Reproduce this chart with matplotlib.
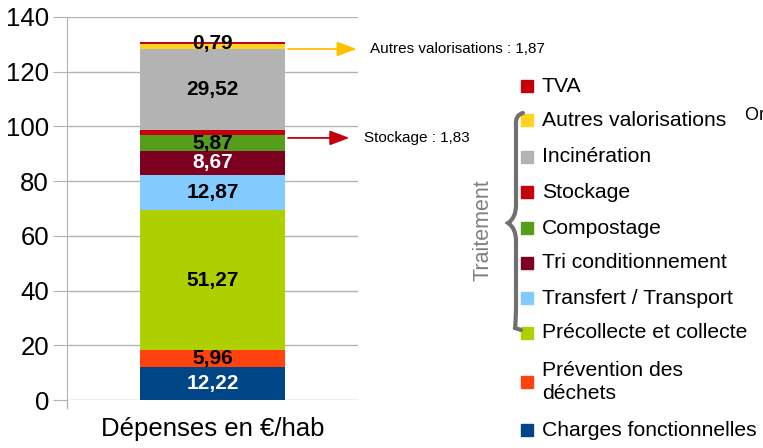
import numpy as np
import matplotlib.pyplot as plt
from matplotlib.path import Path
from matplotlib.patches import PathPatch, Rectangle

plt.rcParams['font.family'] = ['Liberation Sans', 'DejaVu Sans']

# stacked segments, bottom to top
segments = ['Charges fonctionnelles', 'Prévention des\ndéchets', 'Précollecte et collecte',
            'Transfert / Transport', 'Tri conditionnement', 'Compostage', 'Stockage',
            'Incinération', 'Autres valorisations', 'TVA']
values = [12.22, 5.96, 51.27, 12.87, 8.67, 5.87, 1.83, 29.52, 1.87, 0.79]
colors = ['#004586', '#ff420e', '#aecf00', '#83caff', '#7e0021', '#579d1c',
          '#c5000b', '#b3b3b3', '#ffd320', '#c5000b']
label_colors = ['white', 'black', 'black', 'black', 'white', 'black', None, 'black', None, 'black']
category = 'Dépenses en €/hab'

fig = plt.figure(figsize=(7.63, 4.48), dpi=100)
ax = fig.add_axes([67/763, 1-400/448, (358-67)/763, (400-17)/448])

bottom = 0
for v, c, lc in zip(values, colors, label_colors):
    ax.bar(0, v, width=0.5, bottom=bottom, color=c, zorder=3)
    if lc is not None:
        ax.text(0, bottom + v/2, f'{v:.2f}'.replace('.', ','), ha='center', va='center',
                color=lc, fontsize=15, fontweight='bold', zorder=4)
    bottom += v

ax.set_xlim(-0.5, 0.5)
ax.set_ylim(0, 140)
ax.set_yticks(np.arange(0, 141, 20))
ax.set_xticks([0])
ax.set_xticklabels([category], fontsize=18.5)
ax.tick_params(axis='y', labelsize=18.5, length=10, color='#b3b3b3', pad=3)
ax.tick_params(axis='x', length=0, pad=12)
ax.yaxis.grid(True, color='#b3b3b3', lw=1, zorder=0)
for s in ['top', 'right', 'bottom']:
    ax.spines[s].set_visible(False)
ax.spines['left'].set_color('#b3b3b3')
ax.plot([-0.5, -0.5], [0, -3], color='#b3b3b3', lw=1, clip_on=False)

# side annotations
ax.annotate('', xy=(0.505, 128.3), xytext=(0.25, 128.3),
            arrowprops=dict(arrowstyle='-|>,head_length=1.2,head_width=0.45', color='#ffc000', lw=1.3),
            annotation_clip=False, zorder=5)
ax.text(0.54, 128.3, 'Autres valorisations : 1,87', fontsize=11, va='center', clip_on=False)
ax.annotate('', xy=(0.48, 95.8), xytext=(0.25, 95.8),
            arrowprops=dict(arrowstyle='-|>,head_length=1.2,head_width=0.45', color='#c5000b', lw=1.3),
            annotation_clip=False, zorder=5)
ax.text(0.52, 95.8, 'Stockage : 1,83', fontsize=11, va='center', clip_on=False)

# overlay in pixel coordinates for the legend
ov = fig.add_axes([0, 0, 1, 1], facecolor='none')
ov.set_xlim(0, 763)
ov.set_ylim(448, 0)
ov.axis('off')

leg_y = [86, 120, 157, 192, 228, 263, 298, 333, 382, 430]  # top to bottom
for name, c, y in zip(segments[::-1], colors[::-1], leg_y):
    ov.add_patch(Rectangle((521, y - 6), 12, 12, color=c))
    ov.text(542, y, name, fontsize=15.2, va='center', ha='left', linespacing=1.3)

# brace
verts = [(523, 113), (515, 115), (516, 125), (516, 140),
         (516, 205), (516, 218), (508, 223),
         (516, 228), (516, 241), (516, 305),
         (516, 320), (515, 328), (521, 330)]
codes = [Path.MOVETO, Path.CURVE3, Path.CURVE3, Path.LINETO,
         Path.LINETO, Path.CURVE3, Path.CURVE3,
         Path.CURVE3, Path.CURVE3, Path.LINETO,
         Path.CURVE3, Path.CURVE3, Path.LINETO]
ov.add_patch(PathPatch(Path(verts, codes), fill=False, ec='#707070', lw=3, capstyle='round'))
ov.text(483, 230, 'Traitement', rotation=90, color='#808080', fontsize=15.5, ha='center', va='center')
ov.text(745, 115, 'Ordures ménagères', fontsize=13, va='center', ha='left')

fig.savefig('out.png', dpi=100)
